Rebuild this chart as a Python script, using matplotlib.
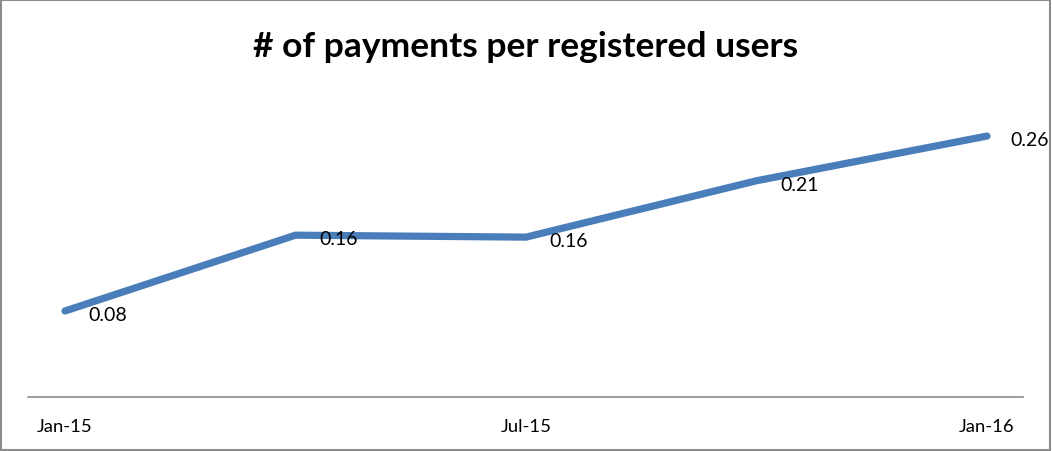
import matplotlib
matplotlib.use('Agg')
import matplotlib.pyplot as plt
from matplotlib.patches import Rectangle

# data
months = ['Jan-15', 'Apr-15', 'Jul-15', 'Oct-15', 'Jan-16']
payments_per_user = [0.08, 0.158, 0.156, 0.214, 0.26]
tick_pos = [0, 2, 4]
tick_labels = ['Jan-15', 'Jul-15', 'Jan-16']

plt.rcParams['font.family'] = ['Lato', 'DejaVu Sans']

fig = plt.figure(figsize=(10.52, 4.52), dpi=100)
ax = fig.add_axes([28 / 1052, 54 / 452, 995 / 1052, 318 / 452])

x = list(range(len(months)))
ax.plot(x, payments_per_user, color='#4a7ebb', lw=5.2, solid_capstyle='round',
        solid_joinstyle='miter')

for xi, v in zip(x, payments_per_user):
    ax.annotate('%.2f' % v, (xi, v), xytext=(17, -2.5), textcoords='offset points',
                ha='left', va='center', fontsize=14, color='black')

ax.set_xlim(-0.1605, 4.156)
ax.set_ylim(-0.0085, 0.3187)

ax.set_xticks(tick_pos)
ax.set_xticklabels(tick_labels, fontsize=13.3)
ax.tick_params(axis='x', length=0, pad=15)
ax.set_yticks([])

for s in ['top', 'right', 'left']:
    ax.spines[s].set_visible(False)
ax.spines['bottom'].set_color('#8c8c8c')
ax.spines['bottom'].set_linewidth(1.2)

fig.text(0.5, 1 - 47 / 452, '# of payments per registered users', ha='center', va='center',
         fontsize=25.5, fontweight='bold')

fig.patches.append(Rectangle((0.001, 0.002), 0.997, 0.995, transform=fig.transFigure,
                             fill=False, edgecolor='#8c8c8c', lw=1.5))

fig.savefig('out.png', dpi=100)
